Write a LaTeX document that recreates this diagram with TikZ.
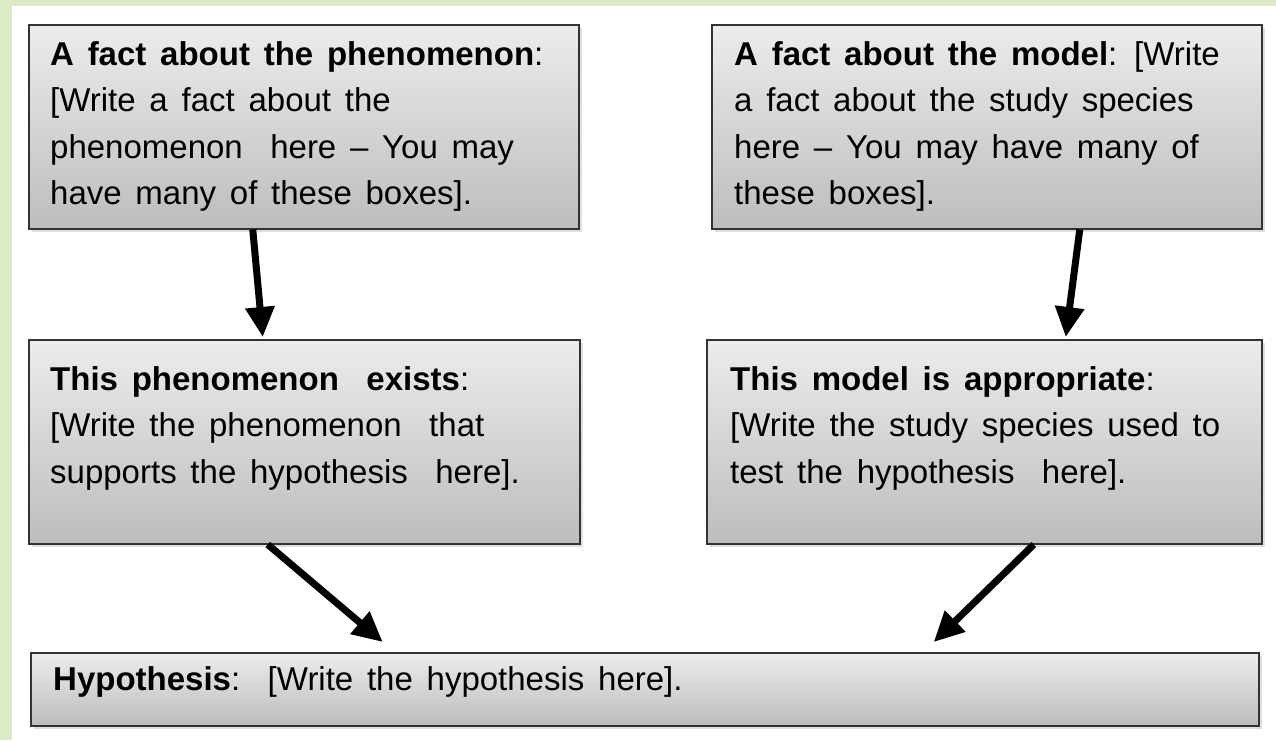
\documentclass[tikz,border=0pt]{standalone}
\usepackage{fontspec}
\setmainfont{Liberation Sans}[WordSpace=1.5]
\usetikzlibrary{arrows.meta,shadows}
\definecolor{framegreen}{HTML}{DCEAC6}
\definecolor{boxtop}{HTML}{ECECEC}
\definecolor{boxbottom}{HTML}{BDBDBD}
\tikzset{%
	box/.style     = {draw=black!80, line width=1.5pt, rectangle, anchor=north west, inner sep=0pt,
	                  top color=boxtop, bottom color=boxbottom,
	                  drop shadow={opacity=0.25, shadow xshift=3pt, shadow yshift=-3pt}}, % Grey box
	boxtext/.style = {anchor=north west, align=left, inner sep=0pt, font=\fontsize{33}{46.5}\selectfont}, % Text in a box
	link/.style    = {->, line width=7pt} % Thick arrow
}

\begin{document}
\begin{tikzpicture}[x=1pt, y=-1pt, >={Triangle[width=28pt, length=30pt]}]
	% Frame of the page
	\fill[framegreen] (0,0) rectangle (1276,740);
	\fill[white] (12,6) rectangle (1276,740);
	\useasboundingbox (0,0) rectangle (1276,740);

	% Boxes
	\node[box, minimum width=550pt, minimum height=204pt] (phenfact) at (28,24) {};
	\node[box, minimum width=550pt, minimum height=204pt] (modelfact) at (711,24) {};
	\node[box, minimum width=551pt, minimum height=204pt] (phenexists) at (28,339) {};
	\node[box, minimum width=555pt, minimum height=204pt] (modelok) at (706,339) {};
	\node[box, minimum width=1228pt, minimum height=73pt] (hypo) at (30,652) {};

	% Texts of the boxes
	\node[boxtext] (phenfacttext) at ([shift={(22,14)}]phenfact.north west)
		{\rule{0pt}{27pt}\textbf{A fact about the phenomenon}:\\
		 {[}Write a fact about the\\
		 phenomenon\ \ here -- You may\\
		 have many of these boxes].};
	\node[boxtext] (modelfacttext) at ([shift={(23,14)}]modelfact.north west)
		{\rule{0pt}{27pt}\textbf{A fact about the model}: [Write\\
		 a fact about the study species\\
		 here -- You may have many of\\
		 these boxes].};
	\node[boxtext] (phenexiststext) at ([shift={(22,24)}]phenexists.north west)
		{\rule{0pt}{27pt}\textbf{This phenomenon\ \ exists}:\\
		 {[}Write the phenomenon\ \ that\\
		 supports the hypothesis\ \ here].};
	\node[boxtext] (modeloktext) at ([shift={(24,24)}]modelok.north west)
		{\rule{0pt}{27pt}\textbf{This model is appropriate}:\\
		 {[}Write the study species used to\\
		 test the hypothesis\ \ here].};
	\node[boxtext] (hypotext) at ([shift={(23,11)}]hypo.north west)
		{\rule{0pt}{27pt}\textbf{Hypothesis}:\ \ [Write the hypothesis here].};

	% Arrows between the boxes
	\draw[link] ([xshift=-51pt]phenfact.south) -- ([xshift=-41.5pt, yshift=2pt]phenexists.north);
	\draw[link] ([xshift=93pt]modelfact.south) -- ([xshift=81.5pt, yshift=2pt]modelok.north);
	\draw[link] ([xshift=-36.5pt]phenexists.south) -- ([xshift=-262pt, yshift=10pt]hypo.north);
	\draw[link] ([xshift=49.5pt]modelok.south) -- ([xshift=289pt, yshift=10pt]hypo.north);
\end{tikzpicture}
\end{document}
